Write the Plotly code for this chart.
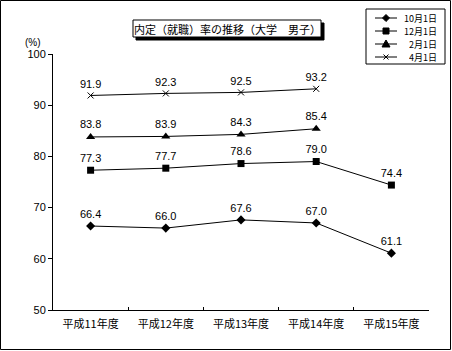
import plotly.graph_objects as go

categories = ["平成11年度", "平成12年度", "平成13年度", "平成14年度", "平成15年度"]
series_names = ["10月1日", "12月1日", "2月1日", "4月1日"]
oct1 = [66.4, 66.0, 67.6, 67.0, 61.1]
dec1 = [77.3, 77.7, 78.6, 79.0, 74.4]
feb1 = [83.8, 83.9, 84.3, 85.4, None]
apr1 = [91.9, 92.3, 92.5, 93.2, None]
y_ticks = [50, 60, 70, 80, 90, 100]
title_text = "内定（就職）率の推移（大学　男子）"

W, H = 452, 351
L, R, T, B = 53, 23, 54, 41
pw, ph = W - L - R, H - T - B

def px_x(x):
    return (x - L) / pw

def px_y(y):
    return (H - B - y) / ph

def path(pts, close=True):
    s = "M " + " L ".join("%f,%f" % (px_x(x), px_y(y)) for x, y in pts)
    return s + (" Z" if close else "")

FONT = "Noto Sans CJK JP"
NUMFONT = "Liberation Sans"

markers = [
    dict(symbol="diamond", size=7),
    dict(symbol="square", size=7),
    dict(symbol="triangle-up", size=8),
    dict(symbol="x-thin", size=6, line=dict(width=1, color="black")),
]
data = [oct1, dec1, feb1, apr1]

fig = go.Figure()
for name, vals, mk in zip(series_names, data, markers):
    texts = [("%.1f" % v) if v is not None else "" for v in vals]
    fig.add_trace(go.Scatter(
        x=categories, y=vals, name=name,
        mode="lines+markers+text",
        line=dict(color="black", width=1),
        marker=dict(color="black", **mk),
        text=texts, textposition="top center",
        textfont=dict(family=NUMFONT, size=11, color="black"),
        cliponaxis=False, showlegend=False,
    ))

# outer border
fig.add_shape(type="rect", xref="paper", yref="paper",
              x0=px_x(0.5), x1=px_x(W - 1.5), y0=px_y(H - 1.5), y1=px_y(0.5),
              line=dict(color="black", width=1))

# title box with shadow
bx0, bx1, by0, by1 = 133, 321, 20, 37
fig.add_shape(type="rect", xref="paper", yref="paper",
              x0=px_x(bx0 + 3), x1=px_x(bx1 + 3), y0=px_y(by1 + 3), y1=px_y(by0 + 3),
              line=dict(color="black", width=1), fillcolor="black")
fig.add_shape(type="rect", xref="paper", yref="paper",
              x0=px_x(bx0), x1=px_x(bx1), y0=px_y(by1), y1=px_y(by0),
              line=dict(color="black", width=1), fillcolor="white")
fig.add_annotation(x=px_x((bx0 + bx1) / 2), y=px_y((by0 + by1) / 2),
                   xref="paper", yref="paper", text=title_text,
                   xanchor="center", yanchor="middle", showarrow=False,
                   font=dict(family=FONT, size=11, color="black"))

# (%) label
fig.add_annotation(x=px_x(33), y=px_y(42), xref="paper", yref="paper", text="(%)",
                   xanchor="center", yanchor="middle",
                   showarrow=False, font=dict(family=NUMFONT, size=10, color="black"))

# custom legend (compact like the original)
lx0, lx1, ly0, ly1 = 366, 445, 9, 64
fig.add_shape(type="rect", xref="paper", yref="paper",
              x0=px_x(lx0), x1=px_x(lx1), y0=px_y(ly1), y1=px_y(ly0),
              line=dict(color="black", width=1))
rows = [18, 31, 44, 57]
mx = 386
blk = dict(color="black", width=1)
for i, (name, ry) in enumerate(zip(series_names, rows)):
    fig.add_shape(type="line", xref="paper", yref="paper",
                  x0=px_x(375), x1=px_x(397), y0=px_y(ry), y1=px_y(ry), line=blk)
    if i == 0:
        p = path([(mx, ry - 3.5), (mx + 3.5, ry), (mx, ry + 3.5), (mx - 3.5, ry)])
        fig.add_shape(type="path", xref="paper", yref="paper", path=p,
                      fillcolor="black", line=blk)
    elif i == 1:
        p = path([(mx - 3, ry - 3), (mx + 3, ry - 3), (mx + 3, ry + 3), (mx - 3, ry + 3)])
        fig.add_shape(type="path", xref="paper", yref="paper", path=p,
                      fillcolor="black", line=blk)
    elif i == 2:
        p = path([(mx, ry - 4), (mx + 4, ry + 3), (mx - 4, ry + 3)])
        fig.add_shape(type="path", xref="paper", yref="paper", path=p,
                      fillcolor="black", line=blk)
    else:
        for a, b in [((mx - 2.5, ry - 2.5), (mx + 2.5, ry + 2.5)),
                     ((mx - 2.5, ry + 2.5), (mx + 2.5, ry - 2.5))]:
            fig.add_shape(type="line", xref="paper", yref="paper",
                          x0=px_x(a[0]), y0=px_y(a[1]), x1=px_x(b[0]), y1=px_y(b[1]),
                          line=blk)
    fig.add_annotation(x=px_x(438), y=px_y(ry), xref="paper", yref="paper", text=name,
                       xanchor="right", yanchor="middle", showarrow=False,
                       height=12, borderpad=0,
                       font=dict(family=FONT, size=9, color="black"))

fig.update_layout(
    width=W, height=H,
    margin=dict(l=L, r=R, t=T, b=B),
    paper_bgcolor="white", plot_bgcolor="white",
    font=dict(family=FONT, size=11, color="black"),
    showlegend=False,
    xaxis=dict(type="category", range=[-0.5, 4.5], showgrid=False,
               showline=True, linecolor="black", linewidth=1,
               ticks="inside", ticklen=3, tickcolor="black", tickson="boundaries",
               ticklabelstandoff=4,
               tickfont=dict(family=FONT, size=11, color="black"), zeroline=False),
    yaxis=dict(range=[50, 100], tickvals=y_ticks, showgrid=False,
               showline=True, linecolor="black", linewidth=1,
               ticks="outside", ticklen=4, tickcolor="black",
               tickfont=dict(family=NUMFONT, size=11, color="black"), zeroline=False),
)

fig.write_html("out.html")
